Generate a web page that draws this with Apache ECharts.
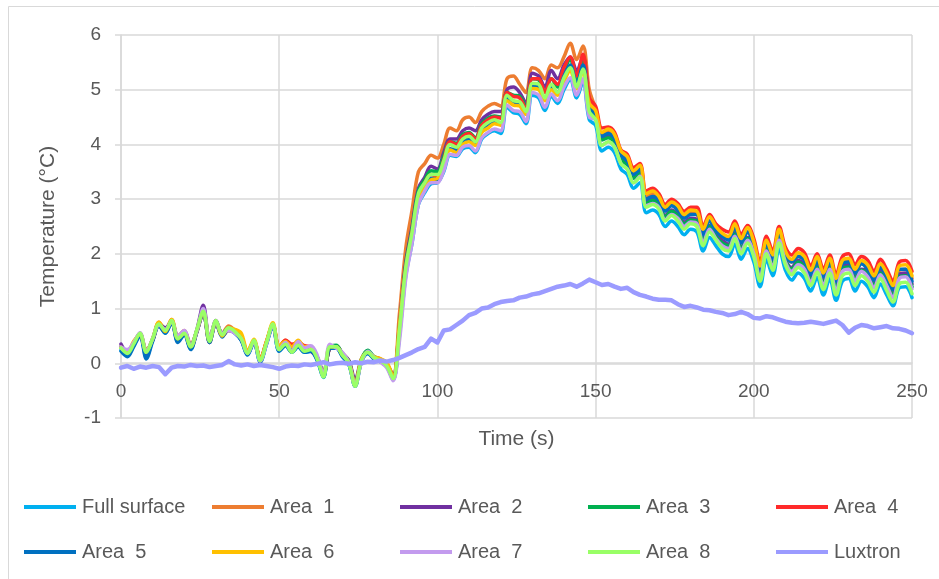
<!DOCTYPE html>
<html><head><meta charset="utf-8">
<script src="https://cdn.jsdelivr.net/npm/echarts@6/dist/echarts.min.js"></script>
<style>html,body{margin:0;padding:0;background:#fff}#c{width:939px;height:579px}</style>
</head><body><div id="c"></div>
<script>
var time = [0,2,4,6,8,10,12,14,16,18,20,22,24,26,28,30,32,34,36,38,40,42,44,46,48,50,52,54,56,58,60,62,64,66,68,70,72,74,76,78,80,82,84,86,88,90,92,94,96,98,100,102,104,106,108,110,112,114,116,118,120,122,124,126,128,130,132,134,136,138,140,142,144,146,148,150,152,154,156,158,160,162,164,166,168,170,172,174,176,178,180,182,184,186,188,190,192,194,196,198,200,202,204,206,208,210,212,214,216,218,220,222,224,226,228,230,232,234,236,238,240,242,244,246,248,250];

var seriesNames = ['Full surface','Area  1','Area  2','Area  3','Area  4','Area  5','Area  6','Area  7','Area  8','Luxtron'];

var fullSurface = [0.24,0.15,0.32,0.52,0.12,0.42,0.7,0.55,0.75,0.4,0.52,0.26,0.58,0.92,0.38,0.74,0.5,0.6,0.55,0.42,0.16,0.38,0.03,0.35,0.68,0.22,0.33,0.2,0.3,0.2,0.22,0.06,-0.26,0.27,0.28,0.12,-0.02,-0.42,0.03,0.18,0.08,0.03,-0.06,-0.3,
0.5,1.6,2.2,2.9,3.12,3.28,3.3,3.5,3.8,3.78,3.92,3.95,3.85,4.1,4.2,4.25,4.2,4.68,4.58,4.55,4.38,4.9,4.85,4.62,4.88,4.75,5.0,5.18,4.85,5.15,4.45,4.35,3.88,3.95,3.85,3.55,3.45,3.2,3.3,2.75,2.8,2.72,2.5,2.6,2.5,2.35,2.45,2.4,2.05,2.3,2.15,2.0,1.95,2.18,1.9,2.1,1.85,1.4,1.9,1.6,2.1,1.7,1.52,1.65,1.55,1.32,1.57,1.25,1.55,1.15,1.5,1.55,1.32,1.5,1.4,1.2,1.45,1.25,1.05,1.38,1.4,1.2];

var area1 = [0.3,0.22,0.38,0.55,0.25,0.42,0.75,0.62,0.8,0.5,0.6,0.35,0.6,0.98,0.45,0.75,0.55,0.68,0.6,0.5,0.22,0.4,0.1,0.4,0.7,0.3,0.42,0.3,0.4,0.3,0.28,0.12,-0.2,0.28,0.3,0.18,0.05,-0.35,0.05,0.2,0.12,0.08,0.0,-0.22,
0.9,2.1,2.8,3.5,3.65,3.8,3.75,4.0,4.3,4.25,4.45,4.5,4.4,4.6,4.7,4.75,4.7,5.2,5.25,5.1,4.95,5.4,5.35,5.2,5.45,5.4,5.6,5.85,5.55,5.8,5.0,4.65,4.2,4.25,4.15,3.85,3.75,3.5,3.6,3.05,3.1,3.0,2.82,2.9,2.82,2.68,2.75,2.72,2.4,2.6,2.45,2.32,2.28,2.45,2.22,2.4,2.15,1.75,2.2,1.95,2.4,2.0,1.85,1.95,1.9,1.68,1.88,1.6,1.85,1.5,1.82,1.9,1.68,1.82,1.75,1.55,1.78,1.6,1.38,1.7,1.72,1.55];

var area2 = [0.35,0.2,0.35,0.55,0.18,0.45,0.72,0.65,0.75,0.48,0.58,0.3,0.62,1.06,0.42,0.78,0.55,0.62,0.6,0.48,0.2,0.38,0.08,0.38,0.7,0.28,0.35,0.25,0.3,0.25,0.22,0.1,-0.15,0.28,0.32,0.18,0.05,-0.3,0.08,0.22,0.1,0.05,-0.02,-0.22,
0.7,1.85,2.5,3.2,3.4,3.6,3.55,3.85,4.1,4.1,4.25,4.3,4.25,4.45,4.55,4.6,4.6,5.0,5.05,4.95,4.75,5.3,5.25,5.05,5.35,5.2,5.45,5.6,5.35,5.6,4.8,4.55,4.1,4.15,4.05,3.75,3.65,3.4,3.5,2.95,3.0,2.92,2.7,2.8,2.72,2.58,2.65,2.62,2.3,2.52,2.35,2.25,2.18,2.38,2.12,2.3,2.05,1.65,2.1,1.85,2.3,1.9,1.75,1.88,1.8,1.55,1.8,1.5,1.78,1.42,1.75,1.8,1.58,1.72,1.68,1.45,1.7,1.5,1.3,1.62,1.65,1.45];

var area3 = [0.3,0.2,0.36,0.52,0.22,0.44,0.7,0.62,0.76,0.47,0.56,0.32,0.6,0.97,0.42,0.76,0.54,0.64,0.58,0.47,0.2,0.4,0.07,0.38,0.7,0.27,0.37,0.24,0.34,0.24,0.26,0.12,-0.2,0.3,0.33,0.17,0.04,-0.38,0.07,0.24,0.12,0.07,-0.03,-0.25,
0.65,1.8,2.45,3.15,3.35,3.52,3.5,3.78,4.05,4.02,4.18,4.22,4.12,4.38,4.48,4.52,4.5,4.95,4.9,4.88,4.68,5.2,5.18,4.95,5.2,5.05,5.35,5.55,5.2,5.5,4.7,4.52,4.08,4.12,4.02,3.72,3.62,3.38,3.48,2.92,2.98,2.9,2.68,2.78,2.7,2.55,2.62,2.6,2.25,2.5,2.32,2.2,2.15,2.36,2.1,2.28,2.02,1.6,2.08,1.8,2.28,1.88,1.72,1.85,1.76,1.52,1.76,1.46,1.75,1.38,1.72,1.76,1.55,1.7,1.62,1.42,1.65,1.45,1.25,1.58,1.6,1.4];

var area4 = [0.3,0.22,0.35,0.5,0.22,0.42,0.7,0.6,0.74,0.42,0.55,0.28,0.58,0.92,0.38,0.74,0.5,0.6,0.56,0.43,0.2,0.4,0.08,0.4,0.7,0.3,0.42,0.35,0.38,0.32,0.3,0.1,-0.22,0.28,0.3,0.15,0.02,-0.4,0.05,0.2,0.1,0.05,-0.03,-0.25,
0.6,1.75,2.4,3.05,3.3,3.45,3.4,3.72,4.05,4.0,4.15,4.2,4.1,4.35,4.45,4.5,4.48,4.95,4.88,4.85,4.65,5.2,5.2,4.95,5.2,5.1,5.4,5.6,5.25,5.65,4.85,4.7,4.3,4.32,4.22,3.9,3.82,3.58,3.65,3.15,3.2,3.1,2.9,3.0,2.92,2.78,2.85,2.85,2.5,2.72,2.55,2.45,2.4,2.6,2.35,2.52,2.28,1.85,2.32,2.05,2.5,2.12,1.98,2.1,2.02,1.78,2.0,1.72,1.98,1.62,1.95,2.0,1.8,1.95,1.88,1.68,1.9,1.72,1.5,1.85,1.88,1.68];

var area5 = [0.22,0.12,0.3,0.5,0.08,0.4,0.68,0.55,0.75,0.38,0.52,0.25,0.58,0.92,0.38,0.74,0.48,0.62,0.55,0.42,0.15,0.38,0.02,0.36,0.68,0.22,0.32,0.2,0.3,0.2,0.22,0.05,-0.25,0.27,0.28,0.12,-0.02,-0.42,0.03,0.18,0.08,0.03,-0.06,-0.3,
0.55,1.7,2.3,3.0,3.2,3.38,3.35,3.62,3.92,3.9,4.05,4.1,4.0,4.25,4.35,4.4,4.38,4.85,4.78,4.72,4.55,5.08,5.05,4.82,5.05,4.95,5.25,5.45,5.1,5.45,4.7,4.55,4.15,4.2,4.1,3.8,3.7,3.45,3.55,3.0,3.05,2.98,2.78,2.88,2.8,2.65,2.72,2.72,2.35,2.6,2.42,2.32,2.25,2.48,2.2,2.4,2.15,1.7,2.2,1.9,2.38,2.0,1.85,1.95,1.88,1.62,1.88,1.58,1.85,1.5,1.82,1.85,1.65,1.82,1.72,1.52,1.75,1.58,1.35,1.72,1.72,1.5];

var area6 = [0.28,0.2,0.4,0.52,0.22,0.45,0.75,0.58,0.8,0.45,0.55,0.3,0.6,0.95,0.42,0.76,0.5,0.64,0.62,0.55,0.22,0.44,0.08,0.4,0.74,0.32,0.4,0.3,0.42,0.3,0.3,0.1,-0.2,0.3,0.3,0.15,0.02,-0.38,0.08,0.2,0.12,0.08,0.02,-0.25,
0.7,1.7,2.3,3.0,3.2,3.35,3.38,3.6,3.9,3.85,4.0,4.05,3.98,4.22,4.3,4.38,4.35,4.8,4.72,4.7,4.55,5.02,5.0,4.8,5.0,4.9,5.15,5.35,5.02,5.35,4.75,4.62,4.22,4.28,4.18,3.88,3.78,3.52,3.62,3.1,3.15,3.05,2.85,2.95,2.88,2.72,2.8,2.78,2.45,2.68,2.5,2.38,2.32,2.55,2.28,2.48,2.22,1.78,2.25,1.98,2.45,2.05,1.9,2.02,1.95,1.7,1.95,1.65,1.92,1.55,1.88,1.92,1.72,1.88,1.8,1.6,1.82,1.65,1.42,1.78,1.8,1.6];

var area7 = [0.3,0.25,0.38,0.56,0.22,0.45,0.7,0.62,0.76,0.5,0.6,0.32,0.6,1.0,0.45,0.76,0.55,0.6,0.55,0.45,0.18,0.4,0.04,0.36,0.7,0.25,0.38,0.22,0.4,0.28,0.32,0.15,-0.22,0.35,0.28,0.2,0.02,-0.4,0.02,0.22,0.1,0.02,-0.08,-0.32,
0.4,1.55,2.2,2.9,3.15,3.3,3.3,3.52,3.82,3.8,3.95,3.98,3.88,4.12,4.22,4.28,4.25,4.72,4.62,4.6,4.42,4.95,4.9,4.68,4.92,4.8,5.05,5.22,4.9,5.2,4.5,4.45,3.98,4.05,3.95,3.65,3.55,3.3,3.42,2.88,2.92,2.85,2.62,2.72,2.65,2.5,2.58,2.55,2.2,2.45,2.28,2.15,2.1,2.32,2.05,2.25,2.0,1.55,2.05,1.75,2.25,1.85,1.68,1.8,1.72,1.48,1.72,1.42,1.72,1.32,1.68,1.72,1.5,1.68,1.58,1.38,1.62,1.42,1.2,1.55,1.58,1.36];

var area8 = [0.28,0.18,0.35,0.55,0.2,0.45,0.72,0.6,0.78,0.45,0.55,0.3,0.62,0.95,0.4,0.78,0.52,0.65,0.58,0.45,0.18,0.42,0.05,0.38,0.72,0.25,0.35,0.2,0.33,0.22,0.25,0.08,-0.25,0.3,0.3,0.15,0.0,-0.42,0.05,0.2,0.1,0.05,-0.05,-0.28,
0.6,1.75,2.4,3.1,3.3,3.45,3.45,3.7,4.0,3.95,4.1,4.15,4.05,4.3,4.4,4.45,4.4,4.9,4.8,4.78,4.6,5.12,5.1,4.85,5.1,4.95,5.22,5.4,5.05,5.38,4.6,4.45,3.98,4.05,3.95,3.65,3.55,3.3,3.4,2.85,2.9,2.82,2.6,2.7,2.6,2.45,2.55,2.5,2.15,2.4,2.25,2.1,2.05,2.28,2.0,2.2,1.95,1.5,2.0,1.7,2.2,1.8,1.62,1.75,1.65,1.42,1.67,1.35,1.65,1.25,1.6,1.65,1.42,1.6,1.5,1.3,1.55,1.33,1.12,1.45,1.48,1.27];

var luxtron = [-0.08,-0.05,-0.1,-0.06,-0.08,-0.05,-0.07,-0.2,-0.08,-0.05,
-0.06,-0.03,-0.05,-0.04,-0.07,-0.05,-0.03,0.04,-0.02,-0.04,
-0.02,-0.05,-0.03,-0.05,-0.07,-0.1,-0.06,-0.04,-0.05,-0.02,
-0.03,-0.01,0.02,-0.02,0.0,0.01,-0.01,0.02,0.0,0.03,
0.02,0.05,0.03,0.06,0.1,0.15,0.2,0.26,0.3,0.45,
0.38,0.6,0.62,0.7,0.78,0.88,0.92,1.0,1.02,1.08,
1.12,1.14,1.15,1.2,1.22,1.26,1.28,1.32,1.36,1.4,
1.42,1.45,1.4,1.46,1.53,1.48,1.43,1.45,1.4,1.36,
1.38,1.3,1.25,1.22,1.18,1.16,1.16,1.15,1.08,1.03,
1.05,1.02,0.98,0.97,0.94,0.92,0.88,0.9,0.94,0.9,
0.83,0.82,0.86,0.84,0.8,0.76,0.74,0.73,0.74,0.76,
0.74,0.72,0.75,0.78,0.7,0.56,0.65,0.7,0.68,0.64,
0.66,0.68,0.64,0.63,0.6,0.55];

var xTicks = [0,50,100,150,200,250];
var yTicks = [-1,0,1,2,3,4,5,6];

var allValues = [fullSurface, area1, area2, area3, area4, area5, area6, area7, area8, luxtron];
var colors = ['#00B0F0','#ED7D31','#7030A0','#00B050','#FF2A2A','#0070C0','#FFC000','#C39BEE','#99FF66','#9B9BFF'];

function pairs(vals){ return time.map(function(t,i){ return [t, vals[i]]; }); }

var series = seriesNames.map(function(name, i){
  var isLux = (i === 9);
  return {
    name: name, type: 'line', data: pairs(allValues[i]),
    showSymbol: false, symbol: 'none',
    smooth: isLux ? false : 0.35,
    lineStyle: { color: colors[i], width: isLux ? 4.5 : 3.5, cap: 'round', join: 'round' },
    itemStyle: { color: colors[i] },
    z: 2 + i
  };
});

var FONT = 'Liberation Sans, Arial, sans-serif';
var colX = [24, 212, 400, 588, 776];
var rowY = [497, 542];
var legends = seriesNames.map(function(name, i){
  return {
    data: [name], left: colX[i % 5], top: rowY[Math.floor(i / 5)],
    icon: 'rect', itemWidth: 52, itemHeight: 4, itemGap: 0, padding: 0,
    textStyle: { fontFamily: FONT, fontSize: 20, color: '#595959', padding: [0,0,0,1] },
    selectedMode: false
  };
});

var chart = echarts.init(document.getElementById('c'), null, { renderer: 'canvas' });
chart.setOption({
  animation: false,
  backgroundColor: '#fff',
  color: colors,
  graphic: [{ type: 'rect', shape: { x: 8.5, y: 6.5, width: 940, height: 600 }, style: { fill: 'none', stroke: '#d9d9d9', lineWidth: 1 }, silent: true, z: -1 }],
  legend: legends,
  grid: { left: 121, right: 27, top: 35, bottom: 161, containLabel: false },
  xAxis: {
    type: 'value', min: xTicks[0], max: xTicks[xTicks.length - 1], interval: 50,
    offset: -55,
    name: 'Time (s)', nameLocation: 'middle', nameGap: 66,
    nameTextStyle: { fontFamily: FONT, fontSize: 21, color: '#595959' },
    axisLine: { onZero: false, lineStyle: { color: '#d9d9d9', width: 1.5 } },
    axisTick: { show: false },
    axisLabel: { margin: 19, fontFamily: FONT, fontSize: 19, color: '#595959' },
    splitLine: { show: true, lineStyle: { color: '#d9d9d9', width: 1.5 } }
  },
  yAxis: {
    type: 'value', min: yTicks[0], max: yTicks[yTicks.length - 1], interval: 1,
    name: 'Temperature (°C)', nameLocation: 'middle', nameGap: 62,
    nameTextStyle: { fontFamily: FONT, fontSize: 21, color: '#595959' },
    axisLine: { show: true, lineStyle: { color: '#d9d9d9', width: 1.5 } },
    axisTick: { show: true, inside: false, length: 6, lineStyle: { color: '#d9d9d9', width: 1.5 } },
    axisLabel: { margin: 20, fontFamily: FONT, fontSize: 19, color: '#595959' },
    splitLine: { show: true, lineStyle: { color: '#d9d9d9', width: 1.5 } }
  },
  series: series
});
</script></body></html>
